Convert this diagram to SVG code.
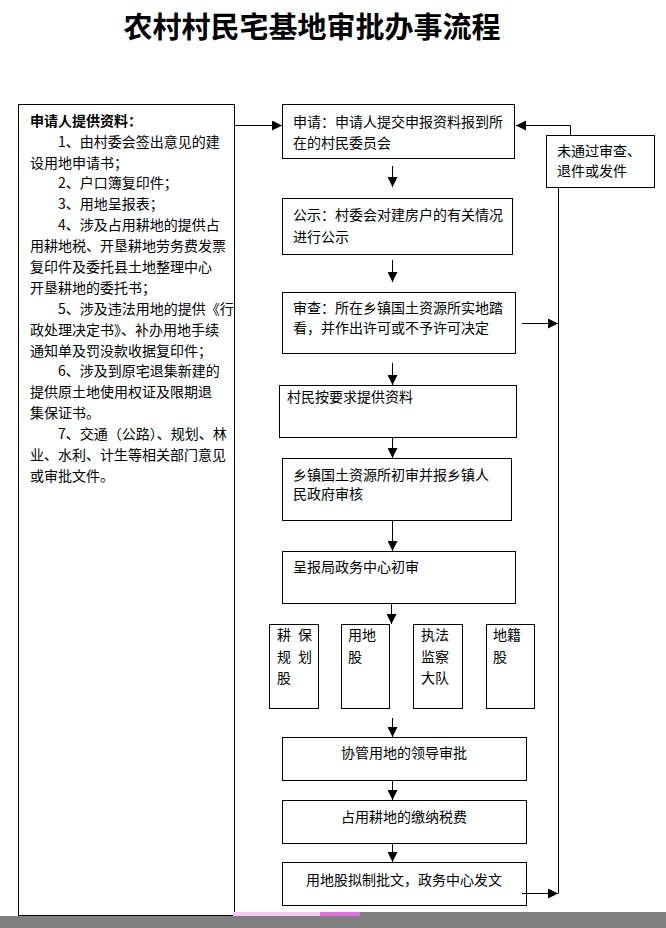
<svg xmlns="http://www.w3.org/2000/svg" width="666" height="928" viewBox="0 0 666 928">
<style>
.box{fill:#fff;stroke:#000;stroke-width:1}
.t{font-family:"Noto Sans CJK SC","Liberation Sans",sans-serif;font-size:14px;fill:#000}
.b{font-weight:bold}
.c{text-anchor:middle}
.title{font-family:"Noto Sans CJK SC","Liberation Sans",sans-serif;font-size:29px;font-weight:bold;text-anchor:middle;fill:#000}
.ln{fill:none;stroke:#000;stroke-width:1}
</style>
<defs>
<marker id="ah" viewBox="0 0 10 10" refX="10" refY="5" markerWidth="10" markerHeight="10" markerUnits="userSpaceOnUse" orient="auto">
<path d="M0,0 L10,5 L0,10 Z" fill="#000"/>
</marker>
</defs>
<rect width="666" height="928" fill="#fff"/>
<text class="title" x="312" y="38">农村村民宅基地审批办事流程</text>

<g id="materials">
<rect class="box" x="18.5" y="104.5" width="216" height="811"/>
<text class="t b" x="30" y="126">申请人提供资料：</text>
<text class="t" x="58" y="147">1、由村委会签出意见的建</text>
<text class="t" x="30" y="168">设用地申请书；</text>
<text class="t" x="58" y="188">2、户口簿复印件；</text>
<text class="t" x="58" y="209">3、用地呈报表；</text>
<text class="t" x="58" y="230">4、涉及占用耕地的提供占</text>
<text class="t" x="30" y="251">用耕地税、开垦耕地劳务费发票</text>
<text class="t" x="30" y="272">复印件及委托县土地整理中心</text>
<text class="t" x="30" y="293">开垦耕地的委托书；</text>
<text class="t" x="58" y="314">5、涉及违法用地的提供《行</text>
<text class="t" x="30" y="335">政处理决定书》、补办用地手续</text>
<text class="t" x="30" y="356">通知单及罚没款收据复印件；</text>
<text class="t" x="58" y="376">6、涉及到原宅退集新建的</text>
<text class="t" x="30" y="397">提供原土地使用权证及限期退</text>
<text class="t" x="30" y="418">集保证书。</text>
<text class="t" x="58" y="439">7、交通（公路）、规划、林</text>
<text class="t" x="30" y="460">业、水利、计生等相关部门意见</text>
<text class="t" x="30" y="481">或审批文件。</text>
</g>

<g id="apply">
<rect class="box" x="282.5" y="104.5" width="232" height="54"/>
<text class="t" x="293" y="127">申请：申请人提交申报资料报到所</text>
<text class="t" x="293" y="148">在的村民委员会</text>
</g>
<g id="reject">
<rect class="box" x="546.5" y="135.5" width="108" height="52"/>
<text class="t" x="557" y="156">未通过审查、</text>
<text class="t" x="557" y="176">退件或发件</text>
</g>
<g id="publicity">
<rect class="box" x="282.5" y="198.5" width="230" height="56"/>
<text class="t" x="293" y="220">公示：村委会对建房户的有关情况</text>
<text class="t" x="293" y="242">进行公示</text>
</g>
<g id="review">
<rect class="box" x="282.5" y="292.5" width="233" height="61"/>
<text class="t" x="293" y="313">审查：所在乡镇国土资源所实地踏</text>
<text class="t" x="293" y="333">看，并作出许可或不予许可决定</text>
</g>
<g id="provide">
<rect class="box" x="279.5" y="385.5" width="237" height="52"/>
<text class="t" x="287" y="402">村民按要求提供资料</text>
</g>
<g id="town">
<rect class="box" x="282.5" y="458.5" width="229" height="62"/>
<text class="t" x="293" y="480">乡镇国土资源所初审并报乡镇人</text>
<text class="t" x="293" y="499">民政府审核</text>
</g>
<g id="center">
<rect class="box" x="282.5" y="551.5" width="233" height="52"/>
<text class="t" x="293" y="572">呈报局政务中心初审</text>
</g>
<g id="plan">
<rect class="box" x="269.5" y="624.5" width="49" height="84"/>
<text class="t" x="277" y="640">耕</text><text class="t" x="298" y="640">保</text>
<text class="t" x="277" y="662">规</text><text class="t" x="298" y="662">划</text>
<text class="t" x="277" y="683">股</text>
</g>
<g id="land">
<rect class="box" x="341.5" y="624.5" width="48" height="84"/>
<text class="t" x="348" y="640">用地</text>
<text class="t" x="348" y="662">股</text>
</g>
<g id="enforce">
<rect class="box" x="413.5" y="624.5" width="49" height="84"/>
<text class="t" x="421" y="640">执法</text>
<text class="t" x="421" y="662">监察</text>
<text class="t" x="421" y="683">大队</text>
</g>
<g id="cadastre">
<rect class="box" x="486.5" y="624.5" width="48" height="84"/>
<text class="t" x="493" y="640">地籍</text>
<text class="t" x="493" y="662">股</text>
</g>
<g id="leader">
<rect class="box" x="282.5" y="737.5" width="244" height="43"/>
<text class="t c" x="404" y="758">协管用地的领导审批</text>
</g>
<g id="tax">
<rect class="box" x="282.5" y="800.5" width="244" height="43"/>
<text class="t c" x="404" y="822">占用耕地的缴纳税费</text>
</g>
<g id="issue">
<rect class="box" x="282.5" y="862.5" width="244" height="43"/>
<text class="t c" x="404" y="885">用地股拟制批文，政务中心发文</text>
</g>

<g id="connectors">
<path class="ln" d="M235,125.5 H282" marker-end="url(#ah)"/>
<path class="ln" d="M570.5,135 V125.5 H516" marker-end="url(#ah)"/>
<path class="ln" d="M558.5,187 V893.5"/>
<path class="ln" d="M522,323.5 H558" marker-end="url(#ah)"/>
<path class="ln" d="M522,893.5 H558" marker-end="url(#ah)"/>
<path class="ln" d="M392.5,166 V187" marker-end="url(#ah)"/>
<path class="ln" d="M392.5,260 V282" marker-end="url(#ah)"/>
<path class="ln" d="M392.5,363 V385" marker-end="url(#ah)"/>
<path class="ln" d="M392.5,438 V458" marker-end="url(#ah)"/>
<path class="ln" d="M392.5,521 V551" marker-end="url(#ah)"/>
<path class="ln" d="M391.5,604 V624" marker-end="url(#ah)"/>
<path class="ln" d="M392.5,718 V737" marker-end="url(#ah)"/>
<path class="ln" d="M392.5,781 V800" marker-end="url(#ah)"/>
<path class="ln" d="M392.5,844 V862" marker-end="url(#ah)"/>
</g>

<rect x="0" y="916" width="666" height="12" fill="#808080"/>
<rect x="360" y="912" width="306" height="4" fill="#808080"/>
<rect x="233" y="912" width="127" height="4" fill="#f6c8f6"/>
<rect x="320" y="912" width="40" height="4" fill="#e070e0"/>
</svg>
